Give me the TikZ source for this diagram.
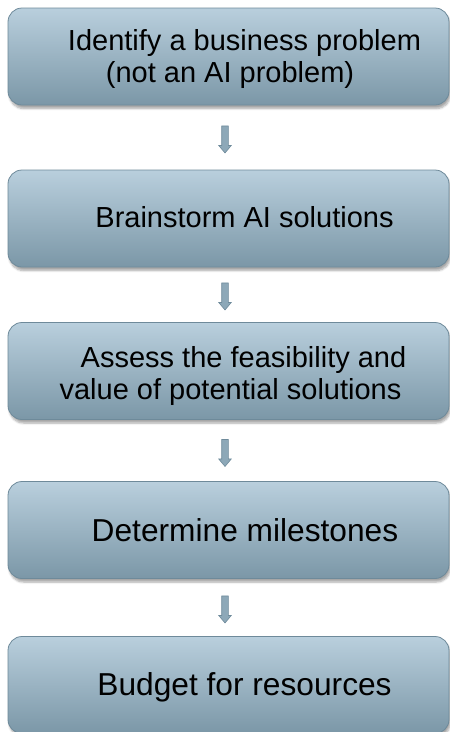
\documentclass[tikz,border=0pt]{standalone}
\usepackage{fontspec}
\setmainfont{Liberation Sans}
\usetikzlibrary{shapes.arrows,shadows.blur}
\definecolor{boxtop}{HTML}{B9CFDD}
\definecolor{boxbot}{HTML}{7B97A7}
\definecolor{boxline}{HTML}{6E8A9A}
\definecolor{arrfill}{HTML}{8DA8B8}
\definecolor{arrline}{HTML}{6F8B9B}
\begin{document}
\begin{tikzpicture}[x=1pt,y=-1pt,
  stepbox/.style={draw=boxline, line width=0.8pt, rounded corners=14pt,
    top color=boxtop, bottom color=boxbot,
    minimum width=441pt, minimum height=97pt, inner sep=0pt,
    blur shadow={shadow xshift=1.5pt, shadow yshift=-3.5pt, shadow blur steps=6, shadow opacity=35}},
  steptext/.style={font=\fontsize{29}{32}\selectfont, text=black, align=center, inner sep=0pt},
  bigtext/.style={steptext, font=\fontsize{31.7}{34}\selectfont},
  downarrow/.style={shape=single arrow, rotate=-90, draw=arrline, fill=arrfill, line width=0.6pt,
    minimum height=27pt, minimum width=12pt, inner sep=3pt,
    single arrow head extend=3pt, single arrow tip angle=80}
]
\useasboundingbox (0,0) rectangle (450,732);
\node[stepbox] (b1) at (228.5,56.5) {};
\node[stepbox] (b2) at (228.5,218.5) {};
\node[stepbox] (b3) at (228.5,371) {};
\node[stepbox] (b4) at (228.5,530) {};
\node[stepbox] (b5) at (228.5,685) {};
\node[steptext] (t1) at (230,58.5) {\hspace*{29pt}Identify a business problem\\(not an AI problem)};
\node[steptext, anchor=base] (t2) at (244.5,227) {Brainstorm AI solutions};
\node[steptext] (t3) at (230.5,375.5) {\hspace*{26pt}Assess the feasibility and\\value of potential solutions};
\node[bigtext, anchor=base] (t4) at (245,541) {Determine milestones};
\node[bigtext, anchor=base] (t5) at (244.5,695) {Budget for resources};
\node[downarrow] (a1) at (225,137.5) {};
\node[downarrow] (a2) at (225,294.5) {};
\node[downarrow] (a3) at (225,451) {};
\node[downarrow] (a4) at (225,607.5) {};
\end{tikzpicture}
\end{document}
